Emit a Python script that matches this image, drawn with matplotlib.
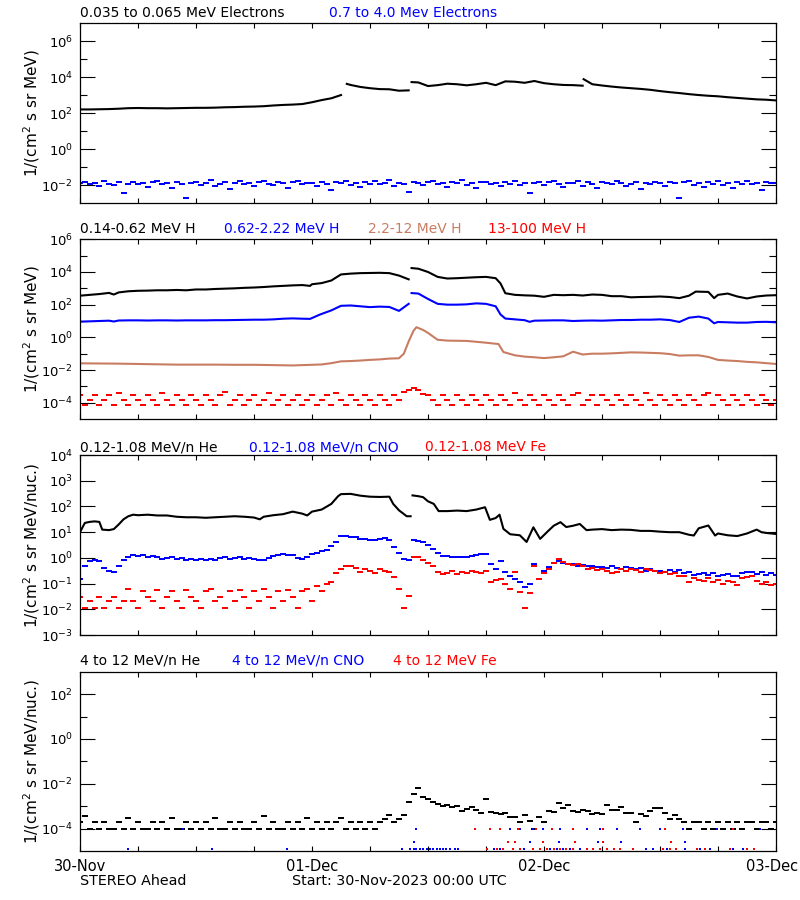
import numpy as np
import matplotlib
matplotlib.use("Agg")
import matplotlib.pyplot as plt
from matplotlib.ticker import FixedLocator, NullFormatter

nan = np.nan

# all flux values are log10, times are hours after 30-Nov-2023 00:00 UTC
# ---- panel 1: electrons
elec_lo = [(0, 2.2), (1, 2.2), (2, 2.21), (3, 2.22), (4, 2.24), (5, 2.27), (6, 2.28), (7, 2.27),
           (8, 2.27), (9, 2.26), (10, 2.27), (11, 2.28), (12, 2.29), (13, 2.29), (14, 2.3), (15, 2.32),
           (16, 2.33), (17, 2.35), (18, 2.36), (19, 2.38), (20, 2.42), (21, 2.45), (22, 2.47), (23, 2.5),
           (24, 2.6), (25, 2.72), (26, 2.82), (27, 3.0), (27.3, nan), (27.6, 3.62), (28, 3.56), (29, 3.45),
           (30, 3.38), (31, 3.33), (32, 3.32), (33, 3.24), (34, 3.26), (34.2, nan), (34.3, 3.72), (35, 3.7),
           (36, 3.5), (37, 3.55), (38, 3.63), (39, 3.6), (40, 3.54), (41, 3.6), (42, 3.68), (43, 3.55),
           (44, 3.76), (45, 3.74), (46, 3.68), (47, 3.78), (48, 3.66), (49, 3.6), (50, 3.56), (51, 3.55),
           (52, 3.52), (52.05, nan), (52.1, 3.88), (53, 3.6), (54, 3.53), (55, 3.47), (56, 3.42), (57, 3.38),
           (58, 3.34), (59, 3.29), (60, 3.22), (61, 3.16), (62, 3.11), (63, 3.05), (64, 3.0), (65, 2.96),
           (66, 2.93), (67, 2.88), (68, 2.84), (69, 2.8), (70, 2.76), (71, 2.74), (72, 2.7)]

# 30 minute samples
elec_hi = [-1.9, -1.83, -1.97, -1.87, -2.05, -1.8, -1.92, -2.0, -1.85, -2.45, -1.93, -1.82,
           -1.95, -1.88, -2.1, -1.85, -1.75, -1.97, -1.9, -2.15, -1.83, -1.92, -2.72, -1.87,
           -1.81, -2.0, -1.9, -1.73, -2.05, -1.92, -1.85, -2.2, -1.88, -1.8, -1.95, -1.91,
           -2.07, -1.85, -1.79, -1.94, -2.0, -1.83, -1.9, -2.15, -1.85, -1.77, -1.97, -1.91,
           -1.88, -2.03, -1.82, -1.93, -2.25, -1.85, -1.9, -1.75, -2.0, -1.87, -2.1, -1.83,
           -1.92, -1.8, -1.97, -1.89, -1.7, -2.05, -1.87, -1.93, -2.4, -1.83, -1.9, -1.98,
           -1.85, -1.77, -1.95, -1.91, -2.13, -1.84, -1.9, -1.73, -2.0, -1.88, -2.17, -1.85,
           -1.81, -1.95, -1.9, -2.07, -1.83, -1.92, -1.75, -1.98, -1.87, -2.44, -1.91, -1.84,
           -2.01, -1.85, -1.79, -1.94, -2.1, -1.87, -1.91, -1.78, -2.03, -1.85, -1.92, -2.15,
           -1.83, -1.9, -1.97, -1.75, -1.88, -2.05, -1.92, -1.81, -2.2, -1.87, -1.95, -1.83,
           -1.9, -2.03, -1.82, -1.91, -2.72, -1.85, -1.77, -1.98, -1.9, -2.1, -1.85, -1.93,
           -1.8, -2.0, -1.87, -2.15, -1.85, -1.92, -1.75, -1.97, -1.89, -2.25, -1.83, -1.91,
           -1.87]

# ---- panel 2: protons
h_014 = [(0, 2.55), (1, 2.6), (2, 2.65), (3, 2.72), (3.5, 2.62), (4, 2.75), (5, 2.82), (6, 2.85),
         (7, 2.86), (8, 2.88), (9, 2.88), (10, 2.9), (11, 2.88), (12, 2.93), (13, 2.93), (14, 2.96),
         (15, 2.98), (16, 3.0), (17, 3.03), (18, 3.05), (19, 3.08), (20, 3.12), (21, 3.15), (22, 3.18),
         (23, 3.2), (23.8, 3.15), (24, 3.25), (25, 3.32), (26, 3.48), (27, 3.85), (28, 3.9), (29, 3.93),
         (30, 3.94), (31, 3.95), (32, 3.93), (33, 3.78), (34, 3.55), (34.2, nan), (34.3, 4.24), (35, 4.2),
         (36, 4.0), (37, 3.7), (38, 3.6), (39, 3.62), (40, 3.65), (41, 3.68), (42, 3.7), (43, 3.62),
         (43.5, 3.3), (44, 2.7), (45, 2.6), (46, 2.57), (47, 2.55), (48, 2.48), (49, 2.6), (50, 2.58),
         (51, 2.6), (52, 2.56), (53, 2.62), (54, 2.6), (55, 2.52), (56, 2.52), (57, 2.45), (58, 2.47),
         (59, 2.48), (60, 2.5), (61, 2.47), (62, 2.4), (63, 2.55), (63.7, 2.8), (65, 2.78), (65.6, 2.4),
         (66, 2.6), (67, 2.68), (68, 2.5), (69, 2.38), (70, 2.5), (71, 2.56), (72, 2.58)]

h_062 = [(0, 0.96), (1, 0.98), (2, 1.0), (3, 1.02), (3.5, 0.97), (4, 1.03), (5, 1.04), (6, 1.04),
         (7, 1.03), (8, 1.04), (9, 1.04), (10, 1.03), (11, 1.04), (12, 1.04), (13, 1.04), (14, 1.05),
         (15, 1.05), (16, 1.06), (17, 1.07), (18, 1.08), (19, 1.08), (20, 1.1), (21, 1.14), (22, 1.16),
         (23, 1.14), (23.8, 1.13), (24.8, 1.39), (26, 1.65), (27, 1.93), (28, 1.95), (29, 1.9), (30, 1.85),
         (31, 1.88), (32, 1.86), (33, 1.62), (34, 2.05), (34.2, nan), (34.3, 2.71), (35, 2.68), (36, 2.35),
         (37, 2.05), (38, 2.0), (39, 2.0), (40, 2.02), (41, 2.08), (42, 2.05), (43, 1.9), (43.5, 1.4),
         (44, 1.15), (45, 1.1), (46, 1.05), (46.5, 0.95), (47, 1.02), (48, 1.03), (49, 1.04), (50, 1.04),
         (51, 1.0), (52, 1.02), (53, 1.03), (54, 1.02), (55, 1.04), (56, 1.06), (57, 1.06), (58, 1.08),
         (59, 1.08), (60, 1.1), (61, 1.06), (62, 0.94), (63, 1.2), (64, 1.27), (65, 1.15), (65.6, 0.86),
         (66, 0.94), (67, 0.92), (68, 0.9), (69, 0.9), (70, 0.94), (71, 0.95), (72, 0.92)]

h_22 = [(0, -1.59), (2, -1.6), (4, -1.61), (6, -1.63), (8, -1.65), (10, -1.67), (12, -1.67), (14, -1.67),
        (16, -1.68), (18, -1.68), (20, -1.7), (22, -1.72), (23, -1.7), (24, -1.68), (25, -1.66), (26, -1.58),
        (27, -1.47), (28, -1.45), (29, -1.42), (30, -1.38), (31, -1.35), (32, -1.3), (33, -1.28), (33.5, -1.0),
        (34, -0.25), (34.5, 0.4), (34.8, 0.62), (35.5, 0.45), (36, 0.27), (37, -0.15), (38, -0.2), (40, -0.22),
        (41.7, -0.31), (43.3, -0.41), (43.8, -0.9), (45, -1.1), (46, -1.18), (47, -1.22), (48, -1.27),
        (49, -1.22), (50, -1.16), (51, -0.88), (52, -1.05), (53, -1.0), (54, -1.0), (55, -0.98), (56, -0.95),
        (57, -0.92), (58, -0.93), (59, -0.95), (60, -0.97), (61, -1.02), (62, -1.12), (63, -1.1), (64, -1.1),
        (65, -1.2), (66, -1.38), (67, -1.42), (68, -1.45), (69, -1.5), (70, -1.53), (71, -1.58), (72, -1.63)]

# 30 minute samples
h_13 = [-3.52, -4.15, -3.86, -3.5, -4.15, -3.86, -3.55, -4.15, -3.38, -3.86, -4.15, -3.52,
        -3.86, -4.15, -3.5, -3.86, -4.15, -3.4, -3.86, -4.15, -3.52, -3.86, -4.15, -3.55,
        -3.86, -4.15, -3.5, -3.86, -4.15, -3.52, -3.35, -4.15, -3.86, -3.5, -4.15, -3.86,
        -3.52, -4.15, -3.86, -3.4, -4.15, -3.86, -3.5, -4.15, -3.86, -3.55, -4.15, -3.86,
        -3.5, -4.15, -3.86, -3.52, -4.15, -3.38, -3.86, -4.15, -3.5, -3.86, -4.15, -3.52,
        -3.86, -4.15, -3.5, -3.86, -4.15, -3.5, -3.86, -3.35, -3.2, -3.1, -3.25, -3.45,
        -3.52, -3.86, -4.15, -3.5, -3.86, -4.15, -3.55, -3.86, -4.15, -3.5, -3.86, -4.15,
        -3.52, -3.86, -4.15, -3.5, -3.86, -4.15, -3.4, -3.86, -4.15, -3.52, -3.86, -4.15,
        -3.5, -3.86, -4.15, -3.55, -3.86, -4.15, -3.5, -3.38, -4.15, -3.86, -3.52, -4.15,
        -3.5, -3.86, -4.15, -3.52, -3.86, -4.15, -3.5, -3.86, -4.15, -3.4, -3.86, -4.15,
        -3.52, -3.86, -4.15, -3.5, -3.86, -4.15, -3.55, -3.86, -4.15, -3.5, -3.38, -4.15,
        -3.52, -3.86, -4.15, -3.5, -3.86, -4.15, -3.52, -3.86, -4.15, -3.5, -3.86, -4.15,
        -3.86]

# ---- panel 3: 0.12-1.08 MeV/n heavy ions
he_low = [(0, 1.0), (0.5, 1.36), (1, 1.4), (1.5, 1.42), (2, 1.4), (2.3, 1.1), (3, 1.08), (3.5, 1.12),
          (4, 1.3), (4.5, 1.5), (5, 1.62), (5.5, 1.68), (6, 1.66), (7, 1.68), (8, 1.65), (9, 1.65),
          (10, 1.6), (11, 1.58), (12, 1.58), (13, 1.56), (14, 1.58), (15, 1.6), (16, 1.62), (17, 1.6),
          (18, 1.57), (18.6, 1.5), (19, 1.6), (20, 1.66), (21, 1.7), (22, 1.8), (23, 1.72), (23.5, 1.65),
          (24, 1.8), (25, 1.88), (26, 2.1), (26.7, 2.4), (27, 2.48), (28, 2.49), (29, 2.42), (30, 2.38),
          (31, 2.37), (32, 2.38), (32.4, 2.1), (33, 1.85), (33.8, 1.62), (34.2, 1.62), (34.3, nan),
          (34.4, 2.43), (35, 2.4), (35.5, 2.36), (36, 2.2), (36.6, 2.1), (37.1, 1.82), (38, 1.82),
          (39, 1.84), (40, 1.82), (41, 1.88), (41.9, 1.97), (42.4, 1.48), (43, 1.55), (43.4, 1.68),
          (43.8, 1.13), (44.5, 0.92), (45, 0.9), (45.5, 0.88), (46.2, 0.62), (46.9, 1.19), (47.6, 0.74),
          (48.3, 1.0), (49, 1.25), (49.7, 1.39), (50.3, 1.2), (51, 1.25), (51.7, 1.32), (52.4, 1.08),
          (53, 1.1), (54, 1.12), (55, 1.08), (56, 1.1), (57, 1.09), (58, 1.05), (59, 1.05), (60, 1.02),
          (61, 1.0), (62, 1.0), (63, 0.9), (63.5, 0.87), (64, 1.15), (65, 1.26), (65.7, 0.87), (66, 0.95),
          (67, 0.88), (68, 0.85), (69, 0.95), (70, 1.1), (70.5, 1.0), (71, 0.97), (72, 0.93)]

# 30 minute samples
cno_low = [-0.82, -0.3, -0.14, -0.1, -0.14, -0.4, -0.5, -0.56, -0.3, -0.1, 0.05, 0.12,
           0.08, 0.1, 0.05, 0.08, 0.02, -0.05, -0.01, 0.03, -0.05, -0.02, -0.08, -0.05,
           -0.1, -0.06, -0.1, -0.04, -0.08, -0.02, 0.02, -0.03, -0.01, 0.02, -0.05, 0.0,
           -0.04, -0.1, -0.08, -0.02, 0.08, 0.12, 0.16, 0.12, 0.1, -0.02, -0.04, 0.05,
           0.15, 0.19, 0.25, 0.3, 0.45, 0.6, 0.87, 0.85, 0.82, 0.8, 0.75, 0.72,
           0.7, 0.71, 0.74, 0.77, 0.7, 0.42, 0.2, -0.05, -0.1, 0.68, 0.66, 0.61,
           0.5, 0.35, 0.2, 0.09, 0.06, 0.04, 0.05, 0.02, 0.03, 0.06, 0.1, 0.14,
           0.16, -0.23, -0.43, -0.14, -0.56, -0.7, -0.82, -0.95, -1.14, -1.0, -0.23, -0.82,
           -0.5, -0.36, -0.2, -0.14, -0.2, -0.23, -0.25, -0.3, -0.28, -0.33, -0.3, -0.36,
           -0.35, -0.4, -0.32, -0.38, -0.42, -0.36, -0.4, -0.45, -0.38, -0.5, -0.45, -0.52,
           -0.5, -0.56, -0.48, -0.55, -0.49, -0.6, -0.55, -0.65, -0.62, -0.58, -0.66, -0.6,
           -0.7, -0.65, -0.62, -0.69, -0.7, -0.6, -0.55, -0.56, -0.62, -0.55, -0.68, -0.6,
           -0.66]

fe_low = [-1.51, -1.96, -1.66, -1.96, -1.51, -1.96, -1.66, -1.51, -1.96, -1.66, -1.2, -1.66,
          -1.96, -1.3, -1.51, -1.66, -1.25, -1.96, -1.51, -1.3, -1.66, -1.96, -1.25, -1.51,
          -1.66, -1.96, -1.3, -1.2, -1.66, -1.51, -1.96, -1.3, -1.66, -1.25, -1.51, -1.96,
          -1.3, -1.66, -1.2, -1.51, -1.96, -1.3, -1.66, -1.25, -1.51, -1.96, -1.3, -1.2,
          -1.66, -1.1, -1.3, -1.0, -0.95, -0.6, -0.43, -0.3, -0.32, -0.4, -0.55, -0.45,
          -0.5, -0.6, -0.45, -0.5, -0.55, -0.75, -1.2, -1.96, -1.47, 0.05, 0.02, -0.08,
          -0.2, -0.3, -0.55, -0.62, -0.58, -0.5, -0.62, -0.55, -0.6, -0.5, -0.56, -0.6,
          -0.5, -0.95, -0.85, -0.82, -1.0, -1.2, -0.56, -1.34, -1.96, -1.35, -0.3, -0.82,
          -0.6, -0.43, -0.2, -0.04, -0.15, -0.23, -0.28, -0.25, -0.3, -0.45, -0.4, -0.49,
          -0.45, -0.52, -0.6, -0.56, -0.45, -0.5, -0.43, -0.48, -0.55, -0.45, -0.49, -0.52,
          -0.6, -0.56, -0.62, -0.58, -0.7, -0.69, -0.95, -0.8, -0.85, -0.9, -0.8, -0.95,
          -0.85, -1.0, -0.9, -0.95, -1.05, -0.8, -0.75, -0.69, -0.9, -1.0, -0.95, -1.05,
          -1.01]

# ---- panel 4: 4-12 MeV/n heavy ions
# 30 minute samples
he_high = [-3.72, -3.42, -4.0, -3.72, -4.0, -3.72, -4.0, -4.0, -3.72, -4.0, -3.52, -4.0,
           -3.72, -4.0, -4.0, -3.72, -4.0, -3.72, -4.0, -3.52, -4.0, -4.0, -3.72, -4.0,
           -3.72, -4.0, -3.72, -4.0, -3.52, -4.0, -4.0, -3.72, -4.0, -3.72, -4.0, -4.0,
           -3.72, -4.0, -3.42, -4.0, -3.72, -4.0, -4.0, -3.72, -4.0, -3.72, -4.0, -3.52,
           -4.0, -3.72, -4.0, -3.72, -4.0, -3.72, -3.52, -4.0, -3.72, -4.0, -3.72, -4.0,
           -3.72, -4.0, -3.72, -3.55, -3.4, -3.72, -3.56, -3.4, -2.81, -2.45, -2.19, -2.59,
           -2.7, -2.81, -2.9, -3.0, -2.95, -3.04, -3.0, -3.2, -3.11, -3.05, -3.19, -3.3,
           -2.7, -3.25, -3.3, -3.33, -3.3, -3.5, -3.48, -3.72, -3.4, -3.65, -4.0, -3.5,
           -3.72, -3.2, -3.25, -2.85, -3.1, -2.95, -3.2, -3.25, -3.15, -3.2, -3.35, -3.3,
           -3.35, -2.93, -3.15, -3.15, -3.05, -3.3, -3.3, -3.72, -3.35, -3.45, -3.2, -3.1,
           -3.1, -3.3, -3.55, -3.4, -3.55, -3.72, -4.0, -3.72, -3.72, -4.0, -3.72, -4.0,
           -3.72, -4.0, -3.72, -4.0, -3.72, -4.0, -3.72, -3.72, -4.0, -3.72, -3.72, -4.0,
           -3.72]

cno_high = [(5.0, -4.89), (10.7, -4.0), (13.7, -4.89), (21.4, -4.89), (33.3, -4.89), (34.1, -4.89),
            (34.5, -4.59), (34.5, -4.89), (34.8, -4.0), (34.8, -4.89), (35.2, -4.89), (35.5, -4.89),
            (35.9, -4.89), (36.2, -4.89), (36.5, -4.89), (36.9, -4.89), (37.2, -4.89), (37.6, -4.89),
            (37.9, -4.89), (38.3, -4.89), (38.8, -4.89), (39.1, -4.89), (42.1, -4.89), (42.8, -4.89),
            (43.4, -4.0), (43.4, -4.89), (44.5, -4.0), (44.8, -4.89), (45.5, -4.0), (45.9, -4.89),
            (46.5, -4.59), (46.9, -4.0), (46.9, -4.89), (47.6, -4.89), (47.9, -4.0), (48.6, -4.89),
            (49.3, -4.89), (49.5, -4.59), (49.7, -4.0), (50.0, -4.89), (50.7, -4.89), (51.0, -4.0),
            (51.7, -4.89), (52.4, -4.0), (52.4, -4.89), (53.1, -4.89), (53.6, -4.59), (53.8, -4.0),
            (53.8, -4.89), (55.5, -4.0), (56.0, -4.59), (57.2, -4.89), (57.9, -4.0), (58.6, -4.89),
            (59.3, -4.89), (60.0, -4.0), (60.7, -4.89), (61.7, -4.89), (62.4, -4.0), (62.6, -4.59),
            (62.6, -4.89), (64.1, -4.89), (65.2, -4.89), (65.9, -4.0), (67.6, -4.0), (67.6, -4.89),
            (68.6, -4.89), (69.7, -4.89), (70.3, -4.0)]

fe_high = [(40.9, -4.0), (42.1, -4.89), (42.4, -4.0), (43.1, -4.89), (43.4, -4.0), (43.8, -4.89),
           (44.3, -4.59), (44.8, -4.89), (45.0, -4.59), (45.3, -4.0), (45.5, -4.89), (46.9, -4.89),
           (47.2, -4.0), (47.6, -4.89), (47.9, -4.59), (48.3, -4.89), (48.8, -4.0), (49.0, -4.89),
           (49.7, -4.89), (50.3, -4.89), (51.0, -4.0), (51.0, -4.89), (51.2, -4.59), (52.4, -4.89),
           (53.1, -4.89), (53.8, -4.89), (54.1, -4.0), (54.1, -4.59), (54.5, -4.89), (55.2, -4.89),
           (55.9, -4.89), (57.2, -4.89), (60.3, -4.89), (60.5, -4.0), (61.0, -4.89), (61.1, -4.59),
           (61.7, -4.89), (63.8, -4.89), (64.7, -4.89), (67.2, -4.89), (67.6, -4.0), (69.0, -4.89),
           (69.7, -4.89)]

day_labels = ["30-Nov", "01-Dec", "02-Dec", "03-Dec"]

BLUE = "#0000ff"
RED = "#ff0000"
BROWN = "#c87d62"

# flat little bar, like the pixel runs of the original plot
DASH = [(-1, -0.25), (1, -0.25), (1, 0.25), (-1, 0.25)]

t_half = np.arange(145) * 0.5


def unpack(pairs):
    t = np.array([p[0] for p in pairs], dtype=float)
    v = np.array([p[1] for p in pairs], dtype=float)
    return t, 10.0 ** v


def draw_line(ax, pairs, color):
    t, v = unpack(pairs)
    ax.plot(t, v, color=color, lw=1.5)


def draw_dots(ax, t, logv, color, ms=4.4):
    ax.plot(t, 10.0 ** np.asarray(logv, dtype=float), linestyle='none', marker=DASH,
            color=color, ms=ms, mew=0)


def setup_axis(ax, ylo, yhi, major, minor, ylab):
    ax.set_yscale('log')
    ax.set_xlim(0, 72)
    ax.set_ylim(10.0 ** ylo, 10.0 ** yhi)
    ax.yaxis.set_major_locator(FixedLocator([10.0 ** k for k in major]))
    ax.yaxis.set_minor_locator(FixedLocator([10.0 ** k for k in minor]))
    ax.yaxis.set_minor_formatter(NullFormatter())
    ax.set_xticks([0, 24, 48, 72])
    ax.set_xticks(np.arange(0, 73, 6), minor=True)
    ax.tick_params(axis='y', which='major', direction='in', length=11, width=0.8,
                   left=True, right=True, labelsize=9.5, pad=5)
    ax.tick_params(axis='y', which='minor', direction='in', length=5, width=0.8,
                   left=True, right=True)
    ax.tick_params(axis='x', which='both', direction='in', length=3.5, width=0.8,
                   top=True, bottom=True, labelbottom=False)
    for s in ax.spines.values():
        s.set_linewidth(0.9)
    ax.set_ylabel(ylab, fontsize=11)
    ax.yaxis.set_label_coords(-0.0545, 0.5)


fig = plt.figure(figsize=(8, 9), dpi=100)
ax1 = fig.add_axes([0.1, 0.7744, 0.87, 0.2])
ax2 = fig.add_axes([0.1, 0.5344, 0.87, 0.1997])
ax3 = fig.add_axes([0.1, 0.2944, 0.87, 0.2])
ax4 = fig.add_axes([0.1, 0.0544, 0.87, 0.1992])

lab_e = r'1/(cm$^2$ s sr MeV)'
lab_n = r'1/(cm$^2$ s sr MeV/nuc.)'

setup_axis(ax1, -3, 7, [-2, 0, 2, 4, 6], [-1, 1, 3, 5], lab_e)
setup_axis(ax2, -5, 6, [-4, -2, 0, 2, 4, 6], [-3, -1, 1, 3, 5], lab_e)
setup_axis(ax3, -3, 4, [-3, -2, -1, 0, 1, 2, 3, 4], [], lab_n)
setup_axis(ax4, -5, 3, [-4, -2, 0, 2], [-3, -1, 1], lab_n)

# panel 1
draw_line(ax1, elec_lo, 'black')
draw_dots(ax1, t_half, elec_hi, BLUE)

# panel 2
draw_dots(ax2, t_half, h_13, RED)
draw_line(ax2, h_22, BROWN)
draw_line(ax2, h_062, BLUE)
draw_line(ax2, h_014, 'black')

# panel 3
draw_line(ax3, he_low, 'black')
draw_dots(ax3, t_half, cno_low, BLUE, ms=4.0)
draw_dots(ax3, t_half, fe_low, RED, ms=4.0)

# panel 4
draw_dots(ax4, t_half, he_high, 'black')
tc, vc = unpack(cno_high)
ax4.plot(tc, vc, 's', color=BLUE, ms=2.0, mew=0)
tf, vf = unpack(fe_high)
ax4.plot(tf, vf, 's', color=RED, ms=2.0, mew=0)

# day labels; the last one is nudged left so it stays inside the picture
ax4.tick_params(axis='x', which='major', labelbottom=True, labelsize=10.5, pad=6)
ax4.set_xticklabels(day_labels[:3] + [""])
ax4.annotate(day_labels[3], xy=(72, 0), xycoords=('data', 'axes fraction'),
             xytext=(-3, -6), textcoords='offset points', ha='center', va='top',
             fontsize=10.5, annotation_clip=False)

# coloured titles above each panel
title_fs = 10
fig.text(0.1, 0.9856, "0.035 to 0.065 MeV Electrons", color='black', fontsize=title_fs, va='center')
fig.text(0.411, 0.9856, "0.7 to 4.0 Mev Electrons", color=BLUE, fontsize=title_fs, va='center')

fig.text(0.1, 0.7456, "0.14-0.62 MeV H", color='black', fontsize=title_fs, va='center')
fig.text(0.28, 0.7456, "0.62-2.22 MeV H", color=BLUE, fontsize=title_fs, va='center')
fig.text(0.46, 0.7456, "2.2-12 MeV H", color=BROWN, fontsize=title_fs, va='center')
fig.text(0.61, 0.7456, "13-100 MeV H", color=RED, fontsize=title_fs, va='center')

fig.text(0.1, 0.5033, "0.12-1.08 MeV/n He", color='black', fontsize=title_fs, va='center')
fig.text(0.311, 0.5033, "0.12-1.08 MeV/n CNO", color=BLUE, fontsize=title_fs, va='center')
fig.text(0.531, 0.5033, "0.12-1.08 MeV Fe", color=RED, fontsize=title_fs, va='center')

fig.text(0.1, 0.2656, "4 to 12 MeV/n He", color='black', fontsize=title_fs, va='center')
fig.text(0.29, 0.2656, "4 to 12 MeV/n CNO", color=BLUE, fontsize=title_fs, va='center')
fig.text(0.491, 0.2656, "4 to 12 MeV Fe", color=RED, fontsize=title_fs, va='center')

fig.text(0.1, 1 - 881 / 900, "STEREO Ahead", fontsize=10.3, va='center')
fig.text(0.365, 1 - 881 / 900, "Start: 30-Nov-2023 00:00 UTC", fontsize=10.3, va='center')

fig.savefig("out.png", dpi=100, facecolor='white')
